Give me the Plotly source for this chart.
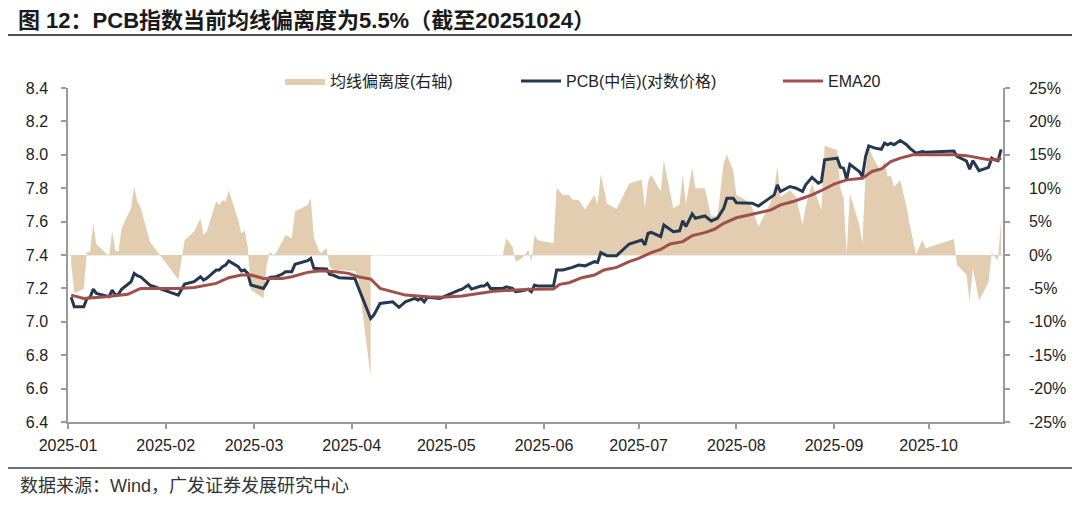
import plotly.graph_objects as go

# ---------------- data ----------------
dev_dates = [
    "2025-01-02", "2025-01-03", "2025-01-06", "2025-01-07", "2025-01-08", "2025-01-09", "2025-01-10",
    "2025-01-13", "2025-01-14", "2025-01-15", "2025-01-16", "2025-01-17", "2025-01-18", "2025-01-21",
    "2025-01-22", "2025-01-23", "2025-01-24", "2025-01-27", "2025-02-05", "2025-02-07", "2025-02-10",
    "2025-02-12", "2025-02-13", "2025-02-14", "2025-02-17", "2025-02-18", "2025-02-19", "2025-02-20",
    "2025-02-21", "2025-02-24", "2025-02-25", "2025-02-26", "2025-02-27", "2025-02-28", "2025-03-04",
    "2025-03-05", "2025-03-06", "2025-03-07", "2025-03-08", "2025-03-11", "2025-03-13", "2025-03-14",
    "2025-03-18", "2025-03-19", "2025-03-20", "2025-03-22", "2025-03-24", "2025-03-25", "2025-03-26",
    "2025-04-02", "2025-04-03", "2025-04-07", "2025-04-08",
    "2025-05-19", "2025-05-20", "2025-05-22", "2025-05-23", "2025-05-25", "2025-05-27", "2025-05-28",
    "2025-05-29", "2025-05-30", "2025-06-04", "2025-06-05", "2025-06-07", "2025-06-09", "2025-06-10",
    "2025-06-12", "2025-06-14", "2025-06-17", "2025-06-18", "2025-06-19", "2025-06-21", "2025-06-24",
    "2025-06-28", "2025-07-02", "2025-07-03", "2025-07-04", "2025-07-05", "2025-07-08", "2025-07-09",
    "2025-07-12", "2025-07-14", "2025-07-15", "2025-07-16", "2025-07-18", "2025-07-19", "2025-07-22",
    "2025-07-24", "2025-07-26", "2025-07-28", "2025-07-29", "2025-07-31", "2025-08-01", "2025-08-04",
    "2025-08-06", "2025-08-08", "2025-08-12", "2025-08-13", "2025-08-14", "2025-08-15", "2025-08-18",
    "2025-08-20", "2025-08-22", "2025-08-23", "2025-08-25", "2025-08-27", "2025-08-28", "2025-08-29",
    "2025-09-02", "2025-09-03", "2025-09-04", "2025-09-05", "2025-09-06", "2025-09-09", "2025-09-10",
    "2025-09-11", "2025-09-12", "2025-09-14", "2025-09-16", "2025-09-17", "2025-09-18", "2025-09-19",
    "2025-09-20", "2025-09-22", "2025-09-24", "2025-09-25", "2025-09-27", "2025-09-29", "2025-09-30",
    "2025-10-09", "2025-10-10", "2025-10-13", "2025-10-14", "2025-10-15", "2025-10-16", "2025-10-17",
    "2025-10-20", "2025-10-21", "2025-10-22", "2025-10-23", "2025-10-24",
]
dev_values = [
    -1.2, -5.7, -5.1, 0.5, 0.5, 4.7, 1.6,
    0.3, -0.3, 3.5, 0.7, 0.5, 4.0, 7.0,
    10.2, 8.0, 7.2, 2.0, -3.7, 2.2, 3.5,
    5.5, 3.0, 3.5, 8.0, 7.5, 8.2, 8.0,
    9.7, 5.2, 3.2, 3.7, 1.2, -5.2, -6.5,
    -1.7, 0.5, 0.0, 0.3, 3.0, 2.5, 6.5,
    7.5, 8.5, 2.5, 0.25, 1.0, -1.7, -2.2,
    -2.4, -3.2, -18.2, None,
    0.2, 2.5, 1.25, -1.0, -0.5, 0.75, -1.0,
    3.0, 2.2, 1.75, 10.0, 9.0, 9.0, 8.3,
    8.2, 6.8, 9.0, 7.5, 12.1, 7.7, 6.9,
    10.7, 11.3, 7.1, 11.0, 12.0, 9.5, 14.1,
    7.0, 7.6, 12.0, 7.6, 13.1, 10.0, 10.0,
    5.8, 5.8, 13.8, 15.0, 12.7, 9.0, 8.2,
    7.2, 4.2, 8.0, 9.7, 13.3, 8.7, 9.7,
    8.7, 4.5, 7.2, 10.7, 8.0, 6.7, 16.3,
    15.7, 10.0, 8.5, 0.25, 9.2, 4.5, 1.75,
    12.7, 16.0, 14.0, 12.5, 14.2, 11.7, 11.9,
    10.2, 11.2, 7.2, 4.5, 0.1, 2.2, 1.0,
    2.4, -1.5, -3.0, -7.0, -2.0, -4.4, -6.8,
    -4.1, 0.35, -0.25, -0.85, 5.5,
]

pcb_dates = [
    "2025-01-02", "2025-01-03", "2025-01-06", "2025-01-07", "2025-01-08", "2025-01-09", "2025-01-10",
    "2025-01-13", "2025-01-14", "2025-01-15", "2025-01-16", "2025-01-17", "2025-01-18", "2025-01-21",
    "2025-01-22", "2025-01-23", "2025-01-24", "2025-01-27", "2025-02-05", "2025-02-07", "2025-02-10",
    "2025-02-12", "2025-02-13", "2025-02-14", "2025-02-17", "2025-02-18", "2025-02-19", "2025-02-20",
    "2025-02-21", "2025-02-24", "2025-02-25", "2025-02-26", "2025-02-27", "2025-02-28", "2025-03-04",
    "2025-03-05", "2025-03-06", "2025-03-08", "2025-03-10", "2025-03-11", "2025-03-13", "2025-03-14",
    "2025-03-18", "2025-03-19", "2025-03-20", "2025-03-22", "2025-03-24", "2025-03-25", "2025-03-26",
    "2025-03-28", "2025-03-31", "2025-04-02", "2025-04-03", "2025-04-07", "2025-04-08", "2025-04-09",
    "2025-04-10", "2025-04-14", "2025-04-16", "2025-04-18", "2025-04-21", "2025-04-22", "2025-04-23",
    "2025-04-24", "2025-04-25", "2025-04-29", "2025-05-02", "2025-05-05", "2025-05-06", "2025-05-08",
    "2025-05-09", "2025-05-12", "2025-05-13", "2025-05-14", "2025-05-15", "2025-05-19", "2025-05-20",
    "2025-05-22", "2025-05-23", "2025-05-25", "2025-05-27", "2025-05-28", "2025-05-29", "2025-05-30",
    "2025-06-04", "2025-06-05", "2025-06-07", "2025-06-09", "2025-06-10", "2025-06-12", "2025-06-14",
    "2025-06-17", "2025-06-18", "2025-06-19", "2025-06-21", "2025-06-24", "2025-06-26", "2025-06-28",
    "2025-07-02", "2025-07-03", "2025-07-04", "2025-07-05", "2025-07-08", "2025-07-09", "2025-07-12",
    "2025-07-14", "2025-07-15", "2025-07-16", "2025-07-18", "2025-07-19", "2025-07-22", "2025-07-24",
    "2025-07-26", "2025-07-28", "2025-07-29", "2025-07-31", "2025-08-01", "2025-08-04", "2025-08-06",
    "2025-08-08", "2025-08-12", "2025-08-13", "2025-08-14", "2025-08-15", "2025-08-18", "2025-08-20",
    "2025-08-22", "2025-08-23", "2025-08-25", "2025-08-27", "2025-08-28", "2025-08-29", "2025-09-02",
    "2025-09-03", "2025-09-04", "2025-09-05", "2025-09-06", "2025-09-09", "2025-09-10", "2025-09-11",
    "2025-09-12", "2025-09-14", "2025-09-16", "2025-09-17", "2025-09-18", "2025-09-19", "2025-09-20",
    "2025-09-22", "2025-09-24", "2025-09-25", "2025-09-27", "2025-09-29", "2025-09-30", "2025-10-09",
    "2025-10-10", "2025-10-13", "2025-10-14", "2025-10-15", "2025-10-16", "2025-10-17", "2025-10-20",
    "2025-10-21", "2025-10-22", "2025-10-23", "2025-10-24",
]
pcb_values = [
    7.147, 7.09, 7.09, 7.14, 7.145, 7.196, 7.17,
    7.155, 7.15, 7.19, 7.16, 7.165, 7.195, 7.24,
    7.29, 7.276, 7.27, 7.22, 7.16, 7.226, 7.24,
    7.27, 7.25, 7.26, 7.31, 7.31, 7.33, 7.34,
    7.364, 7.33, 7.304, 7.31, 7.29, 7.22, 7.20,
    7.23, 7.266, 7.27, 7.286, 7.30, 7.30, 7.344,
    7.366, 7.38, 7.32, 7.318, 7.316, 7.284, 7.28,
    7.264, 7.262, 7.26, 7.21, 7.02, 7.04, 7.08,
    7.11, 7.12, 7.087, 7.12, 7.14, 7.13, 7.14,
    7.12, 7.147, 7.14, 7.166, 7.19, 7.195, 7.22,
    7.196, 7.214, 7.214, 7.23, 7.20, 7.20, 7.21,
    7.20, 7.18, 7.185, 7.195, 7.18, 7.22, 7.214,
    7.214, 7.31, 7.31, 7.32, 7.326, 7.34, 7.335,
    7.36, 7.355, 7.414, 7.396, 7.396, 7.43, 7.466,
    7.49, 7.46, 7.53, 7.535, 7.51, 7.58, 7.54,
    7.545, 7.605, 7.57, 7.646, 7.62, 7.634, 7.604,
    7.62, 7.68, 7.74, 7.74, 7.713, 7.71, 7.71,
    7.693, 7.75, 7.76, 7.82, 7.78, 7.81, 7.80,
    7.78, 7.82, 7.865, 7.83, 7.84, 7.97, 7.98,
    7.925, 7.92, 7.853, 7.943, 7.90, 7.87, 7.99,
    8.053, 8.04, 8.033, 8.07, 8.06, 8.07, 8.06,
    8.085, 8.06, 8.04, 8.01, 8.019, 8.015, 8.023,
    7.99, 7.963, 7.913, 7.965, 7.935, 7.905, 7.925,
    7.98, 7.97, 7.965, 8.033,
]

ema_dates = [
    "2025-01-02", "2025-01-06", "2025-01-13", "2025-01-20", "2025-01-24", "2025-01-27", "2025-02-05",
    "2025-02-10", "2025-02-17", "2025-02-21", "2025-02-25", "2025-02-28", "2025-03-04", "2025-03-10",
    "2025-03-13", "2025-03-18", "2025-03-22", "2025-03-27", "2025-03-31", "2025-04-03", "2025-04-07",
    "2025-04-10", "2025-04-14", "2025-04-18", "2025-04-25", "2025-04-30", "2025-05-06", "2025-05-12",
    "2025-05-16", "2025-05-23", "2025-05-28", "2025-06-04", "2025-06-06", "2025-06-09", "2025-06-13",
    "2025-06-17", "2025-06-20", "2025-06-24", "2025-06-28", "2025-07-01", "2025-07-05", "2025-07-08",
    "2025-07-11", "2025-07-15", "2025-07-18", "2025-07-22", "2025-07-25", "2025-07-28", "2025-08-01",
    "2025-08-05", "2025-08-08", "2025-08-12", "2025-08-15", "2025-08-19", "2025-08-22", "2025-08-25",
    "2025-08-29", "2025-09-01", "2025-09-05", "2025-09-10", "2025-09-13", "2025-09-16", "2025-09-19",
    "2025-09-22", "2025-09-26", "2025-09-30", "2025-10-09", "2025-10-13", "2025-10-17", "2025-10-20",
    "2025-10-23", "2025-10-24",
]
ema_values = [
    7.16, 7.14, 7.15, 7.165, 7.20, 7.20, 7.20,
    7.206, 7.23, 7.264, 7.28, 7.28, 7.26, 7.26,
    7.27, 7.296, 7.306, 7.30, 7.29, 7.27, 7.256,
    7.20, 7.18, 7.16, 7.15, 7.147, 7.155, 7.17,
    7.183, 7.19, 7.195, 7.197, 7.224, 7.234, 7.264,
    7.28, 7.31, 7.326, 7.36, 7.38, 7.414, 7.434,
    7.466, 7.48, 7.516, 7.534, 7.554, 7.59, 7.623,
    7.64, 7.653, 7.67, 7.70, 7.72, 7.74, 7.76,
    7.795, 7.825, 7.85, 7.86, 7.90, 7.915, 7.96,
    7.98, 8.00, 8.00, 8.00, 7.995, 7.98, 7.97,
    7.972, 7.98,
]

left_ticks = [6.4, 6.6, 6.8, 7.0, 7.2, 7.4, 7.6, 7.8, 8.0, 8.2, 8.4]
right_ticks = [-25, -20, -15, -10, -5, 0, 5, 10, 15, 20, 25]

title_text = "图 12：PCB指数当前均线偏离度为5.5%（截至20251024）"
source_text = "数据来源：Wind，广发证券发展研究中心"

# ---------------- style ----------------
TAN = "#E2CDB0"
NAVY = "#25384F"
RED = "#A0504B"
AXIS = "#9A9A9A"
TXT = "#222222"
FONT = "Liberation Sans, Arial, Noto Sans CJK SC, sans-serif"

fig = go.Figure()

# split the deviation series at missing values so each run fills to zero on its own
segments, cur_x, cur_y = [], [], []
for d, v in zip(dev_dates, dev_values):
    if v is None:
        if cur_x:
            segments.append((cur_x, cur_y))
        cur_x, cur_y = [], []
    else:
        cur_x.append(d)
        cur_y.append(v)
if cur_x:
    segments.append((cur_x, cur_y))

for i, (sx, sy) in enumerate(segments):
    fig.add_trace(go.Scatter(
        x=sx, y=sy, name="均线偏离度(右轴)", mode="lines",
        line=dict(width=0, color=TAN), fill="tozeroy", fillcolor=TAN,
        yaxis="y", legend="legend", legendgroup="dev", showlegend=(i == 0),
        hoverinfo="skip"))

fig.add_trace(go.Scatter(
    x=pcb_dates, y=pcb_values, name="PCB(中信)(对数价格)", mode="lines",
    line=dict(width=3, color=NAVY), yaxis="y2", legend="legend2"))
fig.add_trace(go.Scatter(
    x=ema_dates, y=ema_values, name="EMA20", mode="lines",
    line=dict(width=3, color=RED), yaxis="y2", legend="legend3"))

W, H = 1080, 506
L, R, T, B = 68, 77, 88, 84
PW, PH = W - L - R, H - T - B


def px(xp):
    return (xp - L) / PW


def py(yp):
    return (H - B - yp) / PH


leg_common = dict(orientation="h", yanchor="middle", xanchor="left",
                  font=dict(size=16, color=TXT, family=FONT),
                  bgcolor="rgba(0,0,0,0)", itemwidth=40)

fig.update_layout(
    width=W, height=H,
    margin=dict(l=L, r=R, t=T, b=B, autoexpand=False),
    paper_bgcolor="white", plot_bgcolor="white",
    font=dict(family=FONT, size=16, color=TXT),
    title=dict(text="<b>" + title_text + "</b>", xref="container", yref="container",
               x=18 / W, y=1 - 20 / H, xanchor="left", yanchor="middle",
               font=dict(size=22, color="#1a1a1a", family=FONT)),
    legend=dict(x=px(280), y=py(81), **leg_common),
    legend2=dict(x=px(516), y=py(81), **leg_common),
    legend3=dict(x=px(778), y=py(81), **leg_common),
    xaxis=dict(type="date", range=["2025-01-01", "2025-10-24 14:00"],
               tickformat="%Y-%m", dtick="M1", tick0="2025-01-01",
               ticks="outside", ticklen=5, tickcolor=AXIS, tickwidth=1.5,
               showline=True, linecolor=AXIS, linewidth=1.5,
               showgrid=False, zeroline=False,
               tickfont=dict(size=16, color=TXT), ticklabelstandoff=3),
    yaxis=dict(side="right", range=[-25, 25], tickvals=right_ticks,
               ticktext=[f"{v}%" for v in right_ticks],
               ticks="outside", ticklen=5, tickcolor=AXIS, tickwidth=1.5,
               showline=True, linecolor=AXIS, linewidth=1.5,
               showgrid=False, zeroline=True, zerolinecolor="#EBEBEB", zerolinewidth=1,
               tickfont=dict(size=16, color=TXT), ticklabelstandoff=16),
    yaxis2=dict(overlaying="y", side="left", range=[6.4, 8.4], tickvals=left_ticks,
                ticktext=[f"{v:.1f}" for v in left_ticks],
                ticks="outside", ticklen=5, tickcolor=AXIS, tickwidth=1.5,
                showline=True, linecolor=AXIS, linewidth=1.5,
                showgrid=False, zeroline=False,
                tickfont=dict(size=16, color=TXT), ticklabelstandoff=10),
    showlegend=True,
)

# title underline and footer rule
fig.add_shape(type="line", xref="paper", yref="paper",
              x0=px(8), x1=px(1072), y0=py(35), y1=py(35),
              line=dict(color="#505050", width=2))
fig.add_shape(type="line", xref="paper", yref="paper",
              x0=px(8), x1=px(1072), y0=py(468), y1=py(468),
              line=dict(color="#404040", width=1.5))

fig.add_annotation(text=source_text, xref="paper", yref="paper",
                   x=px(18), y=py(486), xanchor="left", yanchor="middle",
                   showarrow=False, font=dict(size=18, color="#333333", family=FONT))

# the page body has a default 8px margin; remove it so the figure sits at the window origin
fig.write_html("out.html", config={"displayModeBar": False},
               post_script="document.body.style.margin='0px';")
